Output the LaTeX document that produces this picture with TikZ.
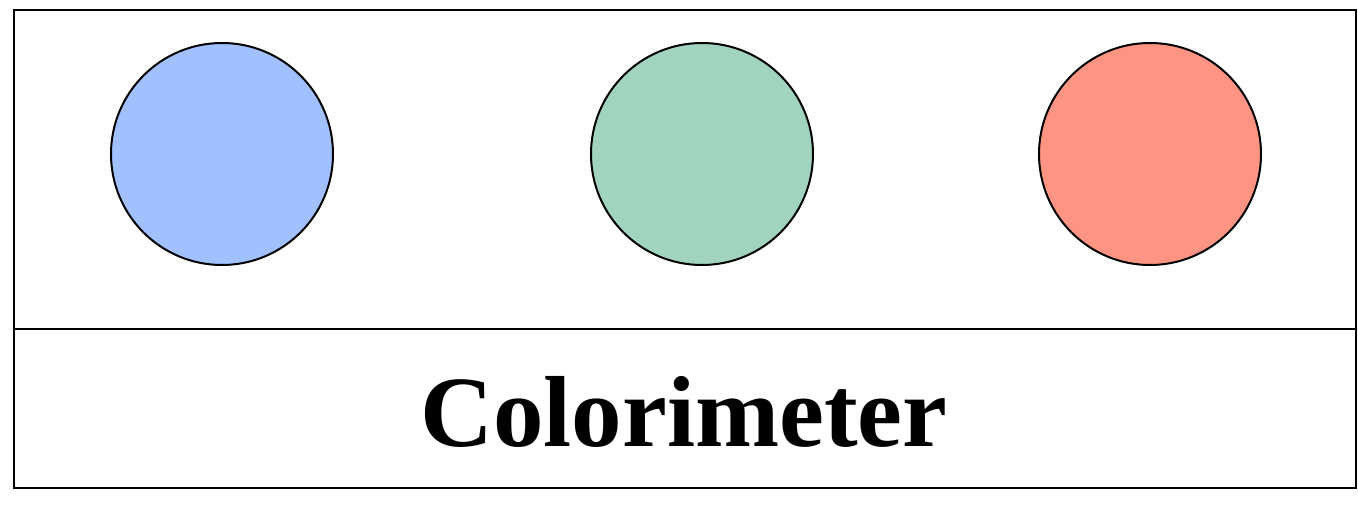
\documentclass[tikz,border=0pt]{standalone}
\usepackage{fontspec}
\setmainfont{Liberation Serif}
\usepackage{tikz}

\definecolor{lampblue}{RGB}{160,192,255}
\definecolor{lampgreen}{RGB}{161,212,190}
\definecolor{lampred}{RGB}{255,148,130}

\begin{document}
\begin{tikzpicture}[x=1pt, y=1pt, line width=2pt,
  lamp/.style={circle, draw=black, minimum size=222pt, inner sep=0pt}]

  % Page size
  \useasboundingbox (0,0) rectangle (1358,506);

  % Outer frame and divider
  \draw (14,18) rectangle (1356,496);
  \draw (14,177) -- (1356,177);

  % The three lamps
  \node[lamp, fill=lampblue]  (blue)  at (222,352) {};
  \node[lamp, fill=lampgreen] (green) at (702,352) {};
  \node[lamp, fill=lampred]   (red)   at (1150,352) {};

  % Label
  \node[font=\fontsize{101}{101}\selectfont\bfseries, anchor=base] (label) at (684,59) {Colorimeter};

\end{tikzpicture}
\end{document}
